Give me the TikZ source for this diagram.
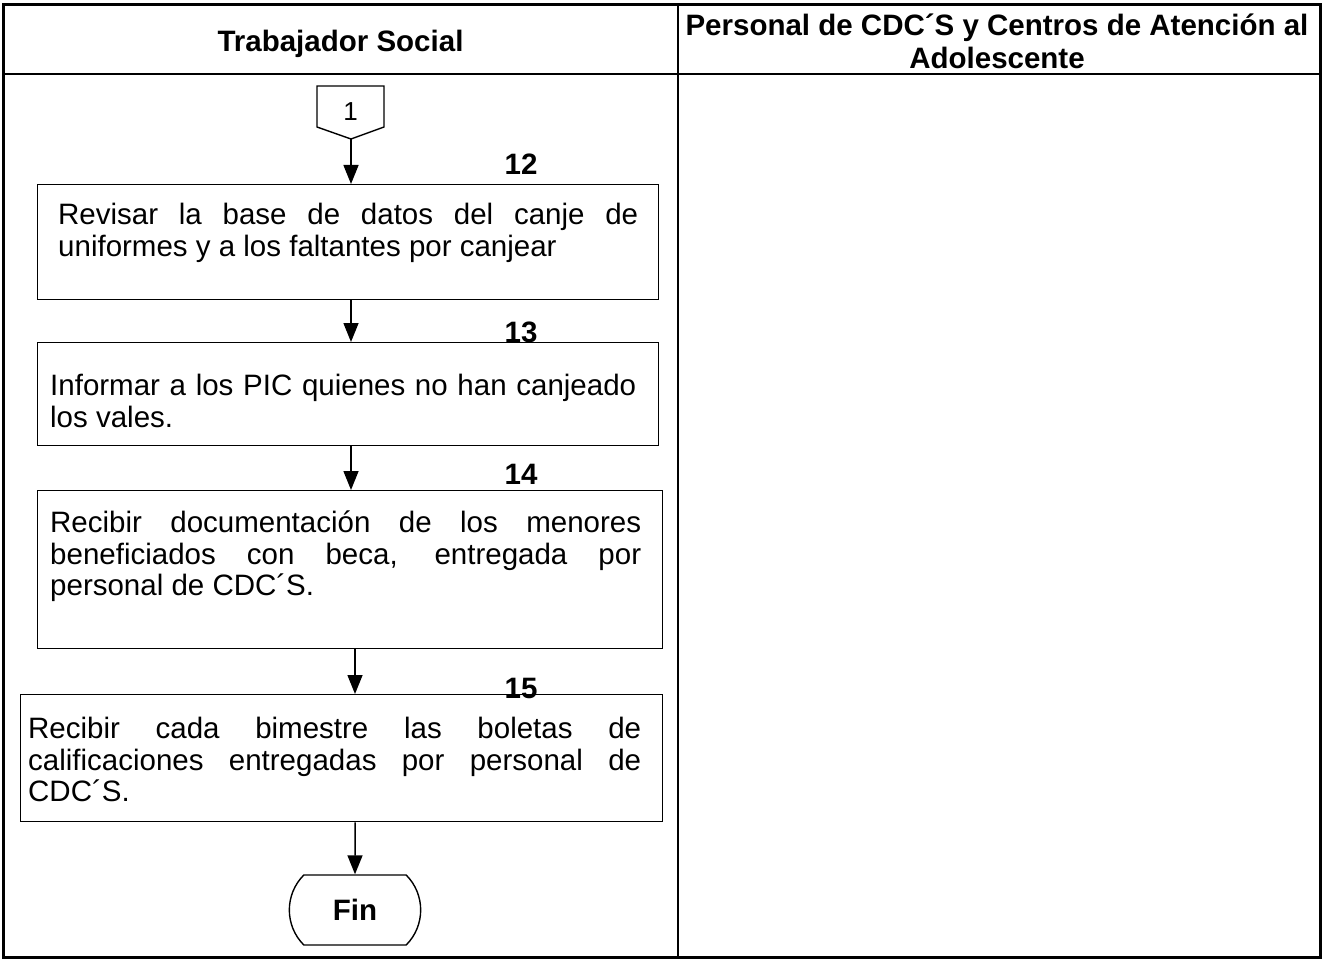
\documentclass[tikz,border=0pt]{standalone}
\usepackage{fontspec}
\setmainfont{Liberation Sans}
\usetikzlibrary{arrows.meta,shapes.misc}
\hyphenpenalty=10000
\tolerance=9999
\hbadness=10000

\tikzset{
  caja/.style={draw,line width=1.4pt,anchor=north west,inner sep=0pt},
  texto/.style={anchor=north west,inner sep=0pt,align=justify,font=\fontsize{29.5}{31.5}\selectfont},
  numero/.style={font=\fontsize{29.5}{33}\selectfont\bfseries,inner sep=0pt},
  flecha/.style={line width=1.5pt,-{Triangle[width=15pt,length=19pt]}}
}

\begin{document}
\begin{tikzpicture}[x=1pt,y=-1pt]
\useasboundingbox (0,0) rectangle (1323,960);
\draw[line width=3pt] (3,5) rectangle (1320,957);
\draw[line width=2pt] (678,5) -- (678,957);
\draw[line width=2pt] (3,74) -- (1320,74);
\node[numero] (ts) at (340.5,43.5) {Trabajador Social};
\node[numero,align=center] (pc) at (997,41) {Personal de CDC´S y Centros de Atención al\\Adolescente};
% conector
\draw[line width=1.4pt] (317,86) -- (384,86) -- (384,127) -- (351,139) -- (317,127) -- cycle;
\node[font=\fontsize{26}{28}\selectfont,inner sep=0pt] (c1) at (350.5,112) {1};
\coordinate (c1p) at (351,139);
% pasos
\node[caja,minimum width=621,minimum height=115] (b12) at (37,184) {};
\node[texto,text width=580] (t12) at ([shift={(21,19)}]b12.north west) {Revisar la base de datos del canje de uniformes y a los faltantes por canjear};
\node[caja,minimum width=621,minimum height=103] (b13) at (37,342) {};
\node[texto,text width=586] (t13) at ([shift={(13,32)}]b13.north west) {Informar a los PIC quienes no han canjeado los vales.};
\node[caja,minimum width=625,minimum height=158] (b14) at (37,490) {};
\node[texto,text width=591] (t14) at ([shift={(13,21)}]b14.north west) {Recibir documentación de los menores beneficiados con beca, entregada por personal de CDC´S.};
\node[caja,minimum width=642,minimum height=127] (b15) at (20,694) {};
\node[texto,text width=613] (t15) at ([shift={(8,23)}]b15.north west) {Recibir cada bimestre las boletas de calificaciones entregadas por personal de CDC´S.};
\node[draw,line width=1.4pt,rounded rectangle,rounded rectangle arc length=90,minimum width=138,minimum height=70,font=\fontsize{29.5}{33}\selectfont\bfseries] (fin) at (355,910) {Fin};
\node[numero] (n12) at (521,164) {12};
\node[numero] (n13) at (521,332) {13};
\node[numero] (n14) at (521,474) {14};
\node[numero] (n15) at (521,688) {15};
\draw[flecha] (c1p) -- (b12.north -| c1p);
\draw[flecha] (b12.south -| c1p) -- (b13.north -| c1p);
\draw[flecha] (b13.south -| c1p) -- (b14.north -| c1p);
\draw[flecha] (b14.south -| fin) -- (b15.north -| fin);
\draw[flecha] (b15.south -| fin) -- (fin);
\end{tikzpicture}
\end{document}
